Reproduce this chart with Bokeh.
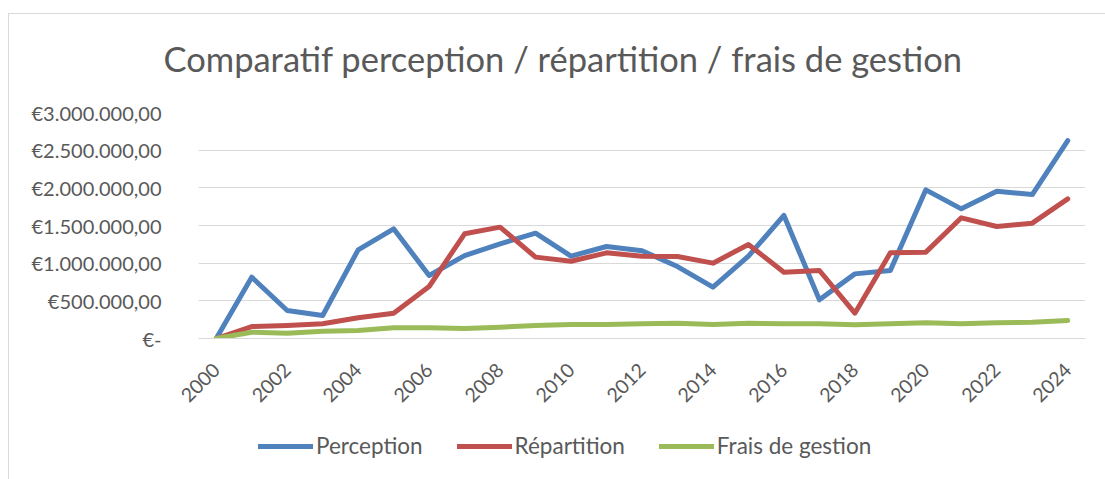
from bokeh.plotting import figure
from bokeh.models import Range1d, FixedTicker, Legend, LegendItem
from bokeh.layouts import column
from bokeh.embed import file_html
from bokeh.resources import INLINE

years = list(range(2000, 2025))
perception = [0, 814000, 372000, 305000, 1177000, 1456000, 836000, 1100000, 1257000,
              1398000, 1093000, 1221000, 1165000, 955000, 681000, 1093000, 1633000,
              513000, 858000, 903000, 1973000, 1721000, 1955000, 1911000, 2628000]
repartition = [0, 159000, 173000, 195000, 275000, 336000, 690000, 1390000, 1478000,
               1080000, 1026000, 1137000, 1093000, 1088000, 1000000, 1248000, 880000,
               903000, 336000, 1137000, 1146000, 1602000, 1487000, 1531000, 1854000]
frais = [0, 84000, 70000, 97000, 106000, 142000, 142000, 133000, 150000, 173000,
         186000, 186000, 195000, 204000, 186000, 204000, 195000, 195000, 181000,
         195000, 208000, 195000, 208000, 217000, 239000]

y_ticks = [0, 500000, 1000000, 1500000, 2000000, 2500000, 3000000]
y_tick_labels = ["€-", "€500.000,00", "€1.000.000,00", "€1.500.000,00",
                 "€2.000.000,00", "€2.500.000,00", "€3.000.000,00"]
x_ticks = years[::2]
series_names = ["Perception", "Répartition", "Frais de gestion"]
colors = ["#4F81BD", "#C0504D", "#9BBB59"]

FONT = "Lato"
GREY = "#595959"

p = figure(width=1097, height=420, output_backend="svg", toolbar_location=None,
           x_range=Range1d(1999.5, 2024.5), y_range=Range1d(0, 3000000),
           min_border_left=190, min_border_right=20, min_border_top=112,
           min_border_bottom=82)
p.outline_line_color = None
p.background_fill_color = "white"
p.border_fill_alpha = 0

p.title.text = "Comparatif perception / répartition / frais de gestion"
p.title.align = "left"
p.title.vertical_align = "bottom"
p.title.text_font = FONT
p.title.text_font_size = "34.5px"
p.title.text_font_style = "normal"
p.title.text_color = GREY
p.title.standoff = 67
p.title.offset = -35

p.xgrid.grid_line_color = None
p.ygrid.grid_line_color = "#d9d9d9"
p.ygrid.grid_line_width = 1

p.yaxis.ticker = FixedTicker(ticks=y_ticks)
p.yaxis.major_label_overrides = {t: l for t, l in zip(y_ticks, y_tick_labels)}
p.yaxis.axis_line_color = None
p.yaxis.major_tick_line_color = None
p.yaxis.minor_tick_line_color = None
p.yaxis.major_label_text_font = FONT
p.yaxis.major_label_text_font_size = "20px"
p.yaxis.major_label_text_color = GREY
p.yaxis.major_label_standoff = 31

p.xaxis.ticker = FixedTicker(ticks=x_ticks)
p.xaxis.axis_line_color = "#d9d9d9"
p.xaxis.major_tick_line_color = None
p.xaxis.minor_tick_line_color = None
p.xaxis.major_label_orientation = 0.785398
p.xaxis.major_label_text_font = FONT
p.xaxis.major_label_text_font_size = "19.5px"
p.xaxis.major_label_text_color = GREY
p.xaxis.major_label_standoff = 22

series = [perception, repartition, frais]
for vals, c in zip(series, colors):
    p.line(years, vals, line_color=c, line_width=5, line_join="round", line_cap="round")

# legend strip below the chart (proxy renderers: single first point, draws nothing)
lg = figure(width=1097, height=59, output_backend="svg", toolbar_location=None,
            x_axis_location=None, y_axis_location=None,
            x_range=Range1d(1999.5, 2024.5), y_range=Range1d(0, 3000000),
            min_border=0)
lg.outline_line_color = None
lg.grid.grid_line_color = None
lg.border_fill_alpha = 0
lg.background_fill_alpha = 0
lg_renderers = [lg.line(years[:1], vals[:1], line_color=c, line_width=5, line_cap="round")
                for vals, c in zip(series, colors)]
legend = Legend(items=[LegendItem(label=n, renderers=[r]) for n, r in zip(series_names, lg_renderers)],
                orientation="horizontal", location=(60, 20))
legend.padding = 0
legend.margin = 0
legend.spacing = 34
legend.label_standoff = 3
legend.glyph_width = 55
legend.glyph_height = 20
legend.border_line_color = None
legend.background_fill_alpha = 0
legend.label_text_font = FONT
legend.label_text_font_size = "22.5px"
legend.label_text_color = GREY
lg.add_layout(legend, "center")

layout = column(p, lg, spacing=0)
layout.margin = (0, 0, 0, 8)
layout.styles = {
    "background": ("linear-gradient(#d9d9d9, #d9d9d9) left 0px top 13px / 100% 1px no-repeat, "
                   "linear-gradient(#d9d9d9, #d9d9d9) left 0px top 13px / 1px 100% no-repeat, white"),
}

open("out.html", "w").write(file_html(layout, INLINE))
